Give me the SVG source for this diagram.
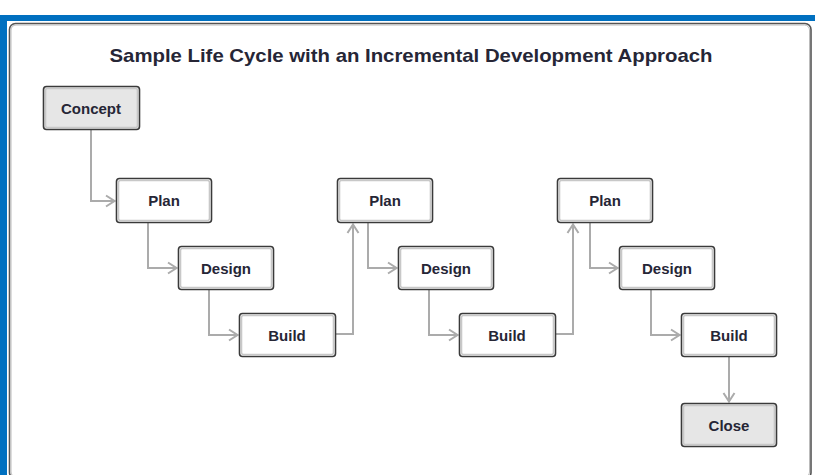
<svg xmlns="http://www.w3.org/2000/svg" width="815" height="475" viewBox="0 0 815 475">
<defs>
<style>
.box{fill:#fff;stroke:#3a3a3a;stroke-width:1.6}
.gbox{fill:#e6e6e6;stroke:#3a3a3a;stroke-width:1.6}
.inner{fill:none;stroke:#c8c8c8;stroke-width:1.6}
.lbl{font-family:"Liberation Sans",Arial,sans-serif;font-weight:bold;font-size:15px;fill:#262636;text-anchor:middle}
.conn{fill:none;stroke:#ababab;stroke-width:2}
</style>
<marker id="arr" viewBox="0 0 14 14" refX="13" refY="7" markerWidth="14" markerHeight="14" markerUnits="userSpaceOnUse" orient="auto">
<path d="M4,1.5 L12.5,7 L4,12.5" fill="none" stroke="#ababab" stroke-width="2"/>
</marker>
</defs>
<rect x="0" y="0" width="815" height="475" fill="#fff"/>
<rect x="0" y="15" width="815" height="6" fill="#0070c0"/>
<rect x="0" y="15" width="7" height="460" fill="#0070c0"/>
<rect x="9.5" y="23.5" width="801.5" height="455" rx="6" fill="#fff" stroke="#555" stroke-width="1.6"/>
<rect x="11" y="25" width="798.5" height="452" rx="5" fill="none" stroke="#bbb" stroke-width="1"/>
<text x="411" y="62" font-family="'Liberation Sans',Arial,sans-serif" font-weight="bold" font-size="19" fill="#262636" text-anchor="middle" textLength="603" lengthAdjust="spacingAndGlyphs">Sample Life Cycle with an Incremental Development Approach</text>
<g id="connectors">
<path class="conn" d="M91,130 V201 H115" marker-end="url(#arr)"/>
<path class="conn" d="M148,223 V268 H177" marker-end="url(#arr)"/>
<path class="conn" d="M209,289 V335 H238" marker-end="url(#arr)"/>
<path class="conn" d="M336,334 H353 V224" marker-end="url(#arr)"/>
<path class="conn" d="M368,223 V268 H397" marker-end="url(#arr)"/>
<path class="conn" d="M429,289 V335 H458" marker-end="url(#arr)"/>
<path class="conn" d="M556,334 H573 V224" marker-end="url(#arr)"/>
<path class="conn" d="M590,223 V268 H618" marker-end="url(#arr)"/>
<path class="conn" d="M651,289 V335 H680" marker-end="url(#arr)"/>
<path class="conn" d="M729,356 V402" marker-end="url(#arr)"/>
</g>
<g id="concept"><rect class="gbox" x="43.5" y="86.5" width="96" height="43" rx="3"/><rect class="inner" x="45.5" y="88.5" width="92" height="39" rx="2"/><text class="lbl" x="91" y="113.5">Concept</text></g>
<g id="plan1"><rect class="box" x="116.5" y="178.5" width="95" height="44" rx="3"/><rect class="inner" x="118.5" y="180.5" width="91" height="40" rx="2"/><text class="lbl" x="164" y="206">Plan</text></g>
<g id="design1"><rect class="box" x="178.5" y="246.5" width="95" height="43" rx="3"/><rect class="inner" x="180.5" y="248.5" width="91" height="39" rx="2"/><text class="lbl" x="226" y="273.5">Design</text></g>
<g id="build1"><rect class="box" x="239.5" y="313.5" width="96" height="43" rx="3"/><rect class="inner" x="241.5" y="315.5" width="92" height="39" rx="2"/><text class="lbl" x="287" y="340.5">Build</text></g>
<g id="plan2"><rect class="box" x="337.5" y="178.5" width="95" height="44" rx="3"/><rect class="inner" x="339.5" y="180.5" width="91" height="40" rx="2"/><text class="lbl" x="385" y="206">Plan</text></g>
<g id="design2"><rect class="box" x="398.5" y="246.5" width="95" height="43" rx="3"/><rect class="inner" x="400.5" y="248.5" width="91" height="39" rx="2"/><text class="lbl" x="446" y="273.5">Design</text></g>
<g id="build2"><rect class="box" x="459.5" y="313.5" width="96" height="43" rx="3"/><rect class="inner" x="461.5" y="315.5" width="92" height="39" rx="2"/><text class="lbl" x="507" y="340.5">Build</text></g>
<g id="plan3"><rect class="box" x="557.5" y="178.5" width="95" height="44" rx="3"/><rect class="inner" x="559.5" y="180.5" width="91" height="40" rx="2"/><text class="lbl" x="605" y="206">Plan</text></g>
<g id="design3"><rect class="box" x="619.5" y="246.5" width="95" height="43" rx="3"/><rect class="inner" x="621.5" y="248.5" width="91" height="39" rx="2"/><text class="lbl" x="667" y="273.5">Design</text></g>
<g id="build3"><rect class="box" x="681.5" y="313.5" width="95" height="43" rx="3"/><rect class="inner" x="683.5" y="315.5" width="91" height="39" rx="2"/><text class="lbl" x="729" y="340.5">Build</text></g>
<g id="close"><rect class="gbox" x="681.5" y="403.5" width="95" height="43" rx="3"/><rect class="inner" x="683.5" y="405.5" width="91" height="39" rx="2"/><text class="lbl" x="729" y="430.5">Close</text></g>
</svg>
